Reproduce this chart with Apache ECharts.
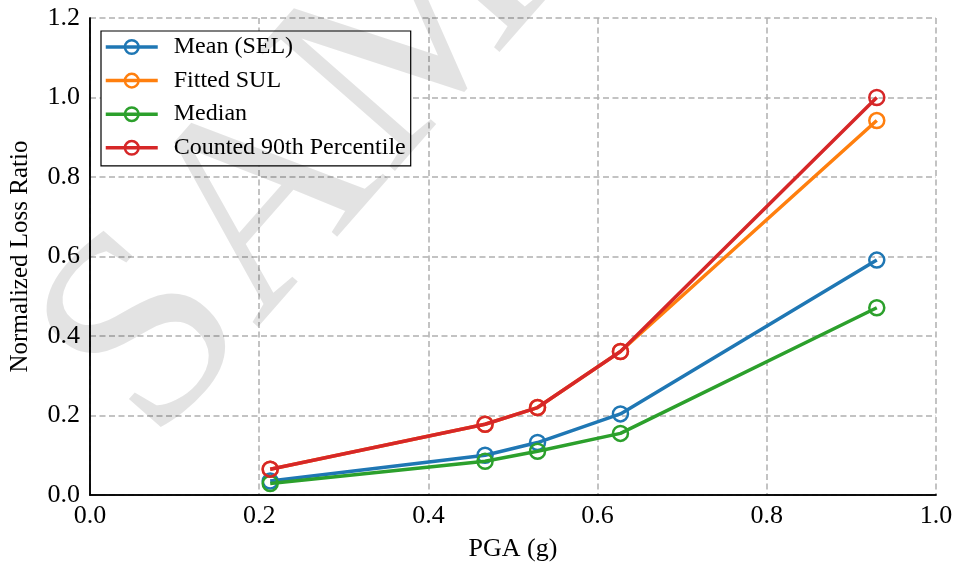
<!DOCTYPE html>
<html>
<head>
<meta charset="utf-8">
<script src="https://cdn.jsdelivr.net/npm/echarts@6/dist/echarts.min.js"></script>
<style>html,body{margin:0;padding:0;background:#fff}#c{width:956px;height:564px}</style>
</head>
<body>
<div id="c"></div>
<script>
const pga = [0.213, 0.467, 0.529, 0.627, 0.930];
const meanSEL = [0.035, 0.100, 0.132, 0.204, 0.591];
const fittedSUL = [0.065, 0.178, 0.220, 0.361, 0.942];
const median = [0.029, 0.085, 0.110, 0.155, 0.471];
const counted90 = [0.065, 0.178, 0.220, 0.361, 1.000];
const seriesNames = ['Mean (SEL)', 'Fitted SUL', 'Median', 'Counted 90th Percentile'];
const colors = ['#1f77b4', '#ff7f0e', '#2ca02c', '#d62728'];
const xTitle = 'PGA (g)';
const yTitle = 'Normalized Loss Ratio';
const watermark = 'SAMPLE';

const FONT = '"Liberation Serif", "DejaVu Serif", serif';
const chart = echarts.init(document.getElementById('c'), null, {renderer: 'canvas'});
const allData = [meanSEL, fittedSUL, median, counted90];
const series = allData.map((arr, i) => ({
  name: seriesNames[i],
  type: 'line',
  xAxisIndex: 0, yAxisIndex: 0,
  data: pga.map((x, j) => [x, arr[j]]),
  symbol: 'circle',
  symbolSize: 15,
  showSymbol: true,
  lineStyle: {width: 3.5, color: colors[i]},
  itemStyle: {color: 'rgba(255,255,255,0)', borderColor: colors[i], borderWidth: 2.5},
  emphasis: {disabled: true},
  z: 2 + i,
  animation: false
}));
const gridLine = {show: true, lineStyle: {color: '#b0b0b0', width: 1.5, type: [6, 3.5]}};
const frameAxis = {show: true, lineStyle: {color: '#000', width: 1.5}};
chart.setOption({
  animation: false,
  backgroundColor: '#fff',
  grid: {left: 90, right: 20, top: 18, bottom: 69, show: false, containLabel: false, outerBoundsMode: 'none'},
  legend: {
    orient: 'vertical', left: 101, top: 31,
    data: seriesNames,
    itemWidth: 52, itemHeight: 17, itemGap: 9.6,
    padding: [4, 5, 6, 3],
    borderColor: '#000', borderWidth: 1.2, borderRadius: 0,
    backgroundColor: '#fff',
    lineStyle: {width: 3.5},
    itemStyle: {borderWidth: 2.5, color: 'rgba(255,255,255,0)'},
    textStyle: {fontFamily: FONT, fontSize: 24, color: '#000', lineHeight: 24, padding: [0, 0, 0, 11]}
  },
  xAxis: [{
    type: 'value', min: 0, max: 1, interval: 0.2,
    name: xTitle, nameLocation: 'middle', nameGap: 41,
    nameTextStyle: {fontFamily: FONT, fontSize: 26, color: '#000'},
    axisLine: frameAxis,
    axisTick: {show: false},
    axisLabel: {fontFamily: FONT, fontSize: 26, color: '#000', margin: 8, formatter: v => v.toFixed(1)},
    splitLine: gridLine
  }, {
    type: 'value', min: 0, max: 1, position: 'top',
    axisLine: frameAxis, axisTick: {show: false}, axisLabel: {show: false}, splitLine: {show: false}
  }],
  yAxis: [{
    type: 'value', min: 0, max: 1.2, interval: 0.2,
    name: yTitle, nameLocation: 'middle', nameGap: 57,
    nameTextStyle: {fontFamily: FONT, fontSize: 25, color: '#000'},
    axisLine: frameAxis,
    axisTick: {show: false},
    axisLabel: {fontFamily: FONT, fontSize: 26, color: '#000', margin: 10, formatter: v => v.toFixed(1)},
    splitLine: gridLine
  }, {
    type: 'value', min: 0, max: 1.2, position: 'right',
    axisLine: frameAxis, axisTick: {show: false}, axisLabel: {show: false}, splitLine: {show: false}
  }],
  graphic: [{
    type: 'text',
    x: -7, y: 305,
    rotation: 0.85,
    z: 100,
    silent: true,
    style: {text: watermark, fontFamily: FONT, fontSize: 280, fill: 'rgba(0,0,0,0.11)', textAlign: 'left', textVerticalAlign: 'alphabetic'}
  }],
  series: series
});
</script>
</body>
</html>
